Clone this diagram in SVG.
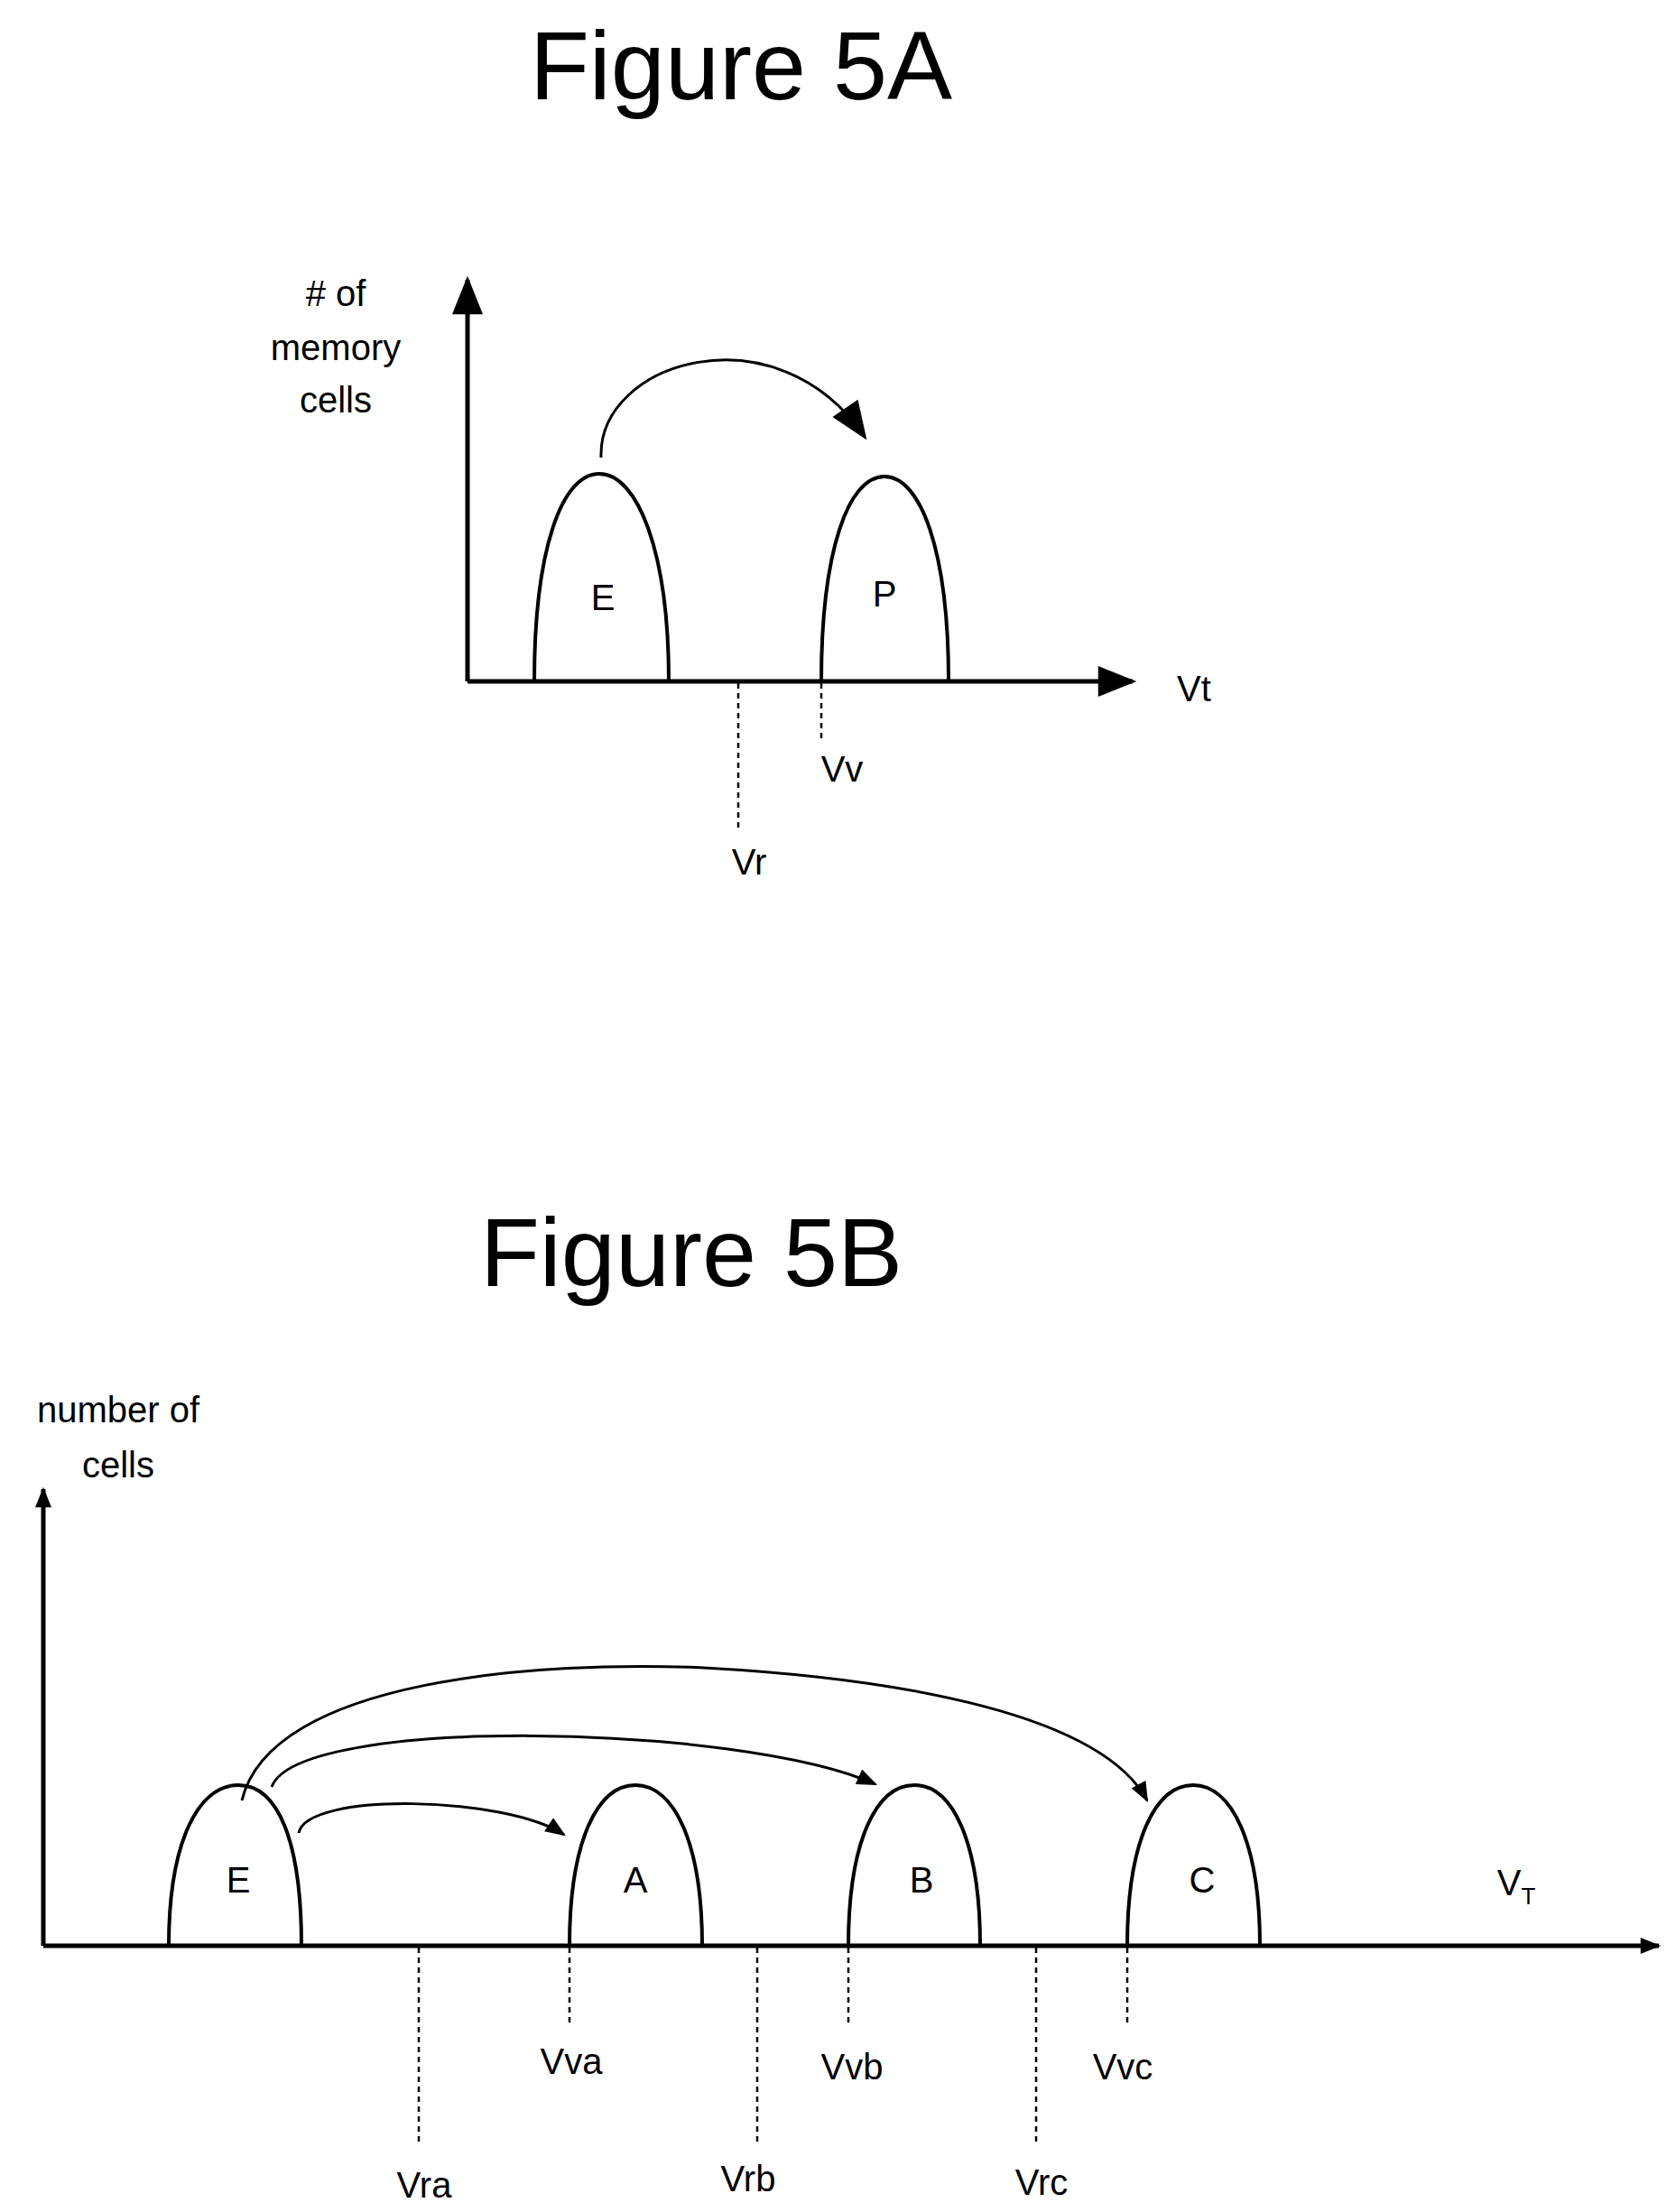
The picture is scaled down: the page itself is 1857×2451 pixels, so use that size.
<svg xmlns="http://www.w3.org/2000/svg" width="1857" height="2451" viewBox="0 0 1857 2451">
<style>
text{font-family:"Liberation Sans",Arial,sans-serif;fill:#000}
.t{font-size:108px;text-anchor:middle}
.l{font-size:40px;text-anchor:middle}
.ax{stroke:#000;stroke-width:5;fill:none}
.h{stroke:#000;stroke-width:4;fill:none}
.d{stroke:#000;stroke-width:2.5;stroke-dasharray:6 5;fill:none}
.a{stroke:#000;stroke-width:3;fill:none}
</style>
<defs>
<marker id="ah" markerWidth="10" markerHeight="8" refX="9" refY="4" orient="auto" markerUnits="userSpaceOnUse" viewBox="0 0 10 8"><path d="M0,0 L10,4 L0,8 Z" fill="#000"/></marker>
<marker id="big" viewBox="0 0 10 8" refX="9" refY="4" markerWidth="44" markerHeight="34" orient="auto" markerUnits="userSpaceOnUse"><path d="M0,0 L10,4 L0,8 Z" fill="#000"/></marker>
<marker id="sm" viewBox="0 0 10 8" refX="9" refY="4" markerWidth="24" markerHeight="18" orient="auto" markerUnits="userSpaceOnUse"><path d="M0,0 L10,4 L0,8 Z" fill="#000"/></marker>
</defs>
<text class="t" x="821" y="110">Figure 5A</text>
<text class="t" x="766" y="1425">Figure 5B</text>
<g id="axes5A">
<line class="ax" x1="518" y1="755" x2="518" y2="310" marker-end="url(#big)"/>
<line class="ax" x1="518" y1="755" x2="1255" y2="755" marker-end="url(#big)"/>
<text class="l" x="372" y="339">
# of</text>
<text class="l" x="372" y="399">memory</text>
<text class="l" x="372" y="457">cells</text>
<text class="l" x="1323" y="777" text-anchor="start">Vt</text>
</g>
<g id="E5A"><path class="h" d="M592,755 C592,610 622,525 664,525 C706,525 741,610 741,755"/><text class="l" x="668" y="676">E</text></g>
<g id="P5A"><path class="h" d="M910,755 C910,610 940,528 980,528 C1020,528 1051,610 1051,755"/><text class="l" x="980" y="672">P</text></g>
<g id="Vr5A"><line class="d" x1="818" y1="757" x2="818" y2="921"/><text class="l" x="830" y="969">Vr</text></g>
<g id="Vv5A"><line class="d" x1="910" y1="757" x2="910" y2="822"/><text class="l" x="933" y="866">Vv</text></g>
<g id="connectors5A"><path class="a" d="M666,507 C662,400 860,340 958,484" marker-end="url(#big)"/></g>
<g id="axes5B">
<line class="ax" x1="48" y1="2156" x2="48" y2="1650" marker-end="url(#sm)"/>
<line class="ax" x1="48" y1="2156" x2="1838" y2="2156" marker-end="url(#sm)"/>
<text class="l" x="131" y="1576">number of</text>
<text class="l" x="131" y="1637">cells</text>
<text class="l" x="1680" y="2100" text-anchor="start">V<tspan font-size="26" dy="10">T</tspan></text>
</g>
<g id="E5B"><path class="h" d="M187,2156 C187,2040 220,1978 264,1978 C308,1978 334,2040 334,2156"/><text class="l" x="264" y="2097">E</text></g>
<g id="A5B"><path class="h" d="M631,2156 C631,2040 662,1978 704,1978 C746,1978 778,2040 778,2156"/><text class="l" x="704" y="2097">A</text></g>
<g id="B5B"><path class="h" d="M940,2156 C940,2040 971,1978 1013,1978 C1055,1978 1086,2040 1086,2156"/><text class="l" x="1021" y="2097">B</text></g>
<g id="C5B"><path class="h" d="M1249,2156 C1249,2040 1280,1978 1322,1978 C1364,1978 1396,2040 1396,2156"/><text class="l" x="1332" y="2097">C</text></g>
<g id="Vra"><line class="d" x1="464" y1="2158" x2="464" y2="2374"/><text class="l" x="470" y="2435">Vra</text></g>
<g id="Vrb"><line class="d" x1="839" y1="2158" x2="839" y2="2374"/><text class="l" x="829" y="2428">Vrb</text></g>
<g id="Vrc"><line class="d" x1="1148" y1="2158" x2="1148" y2="2374"/><text class="l" x="1154" y="2432">Vrc</text></g>
<g id="Vva"><line class="d" x1="631" y1="2158" x2="631" y2="2244"/><text class="l" x="633" y="2298">Vva</text></g>
<g id="Vvb"><line class="d" x1="940" y1="2158" x2="940" y2="2244"/><text class="l" x="944" y="2304">Vvb</text></g>
<g id="Vvc"><line class="d" x1="1249" y1="2158" x2="1249" y2="2244"/><text class="l" x="1244" y="2304">Vvc</text></g>
<g id="connectors5B">
<path class="a" d="M268,1995 C300,1860 600,1840 780,1848 C1000,1860 1220,1900 1271,1995" marker-end="url(#sm)"/>
<path class="a" d="M301,1980 C330,1900 820,1910 970,1977" marker-end="url(#sm)"/>
<path class="a" d="M331,2031 C340,1985 560,1990 625,2033" marker-end="url(#sm)"/>
</g>
</svg>
